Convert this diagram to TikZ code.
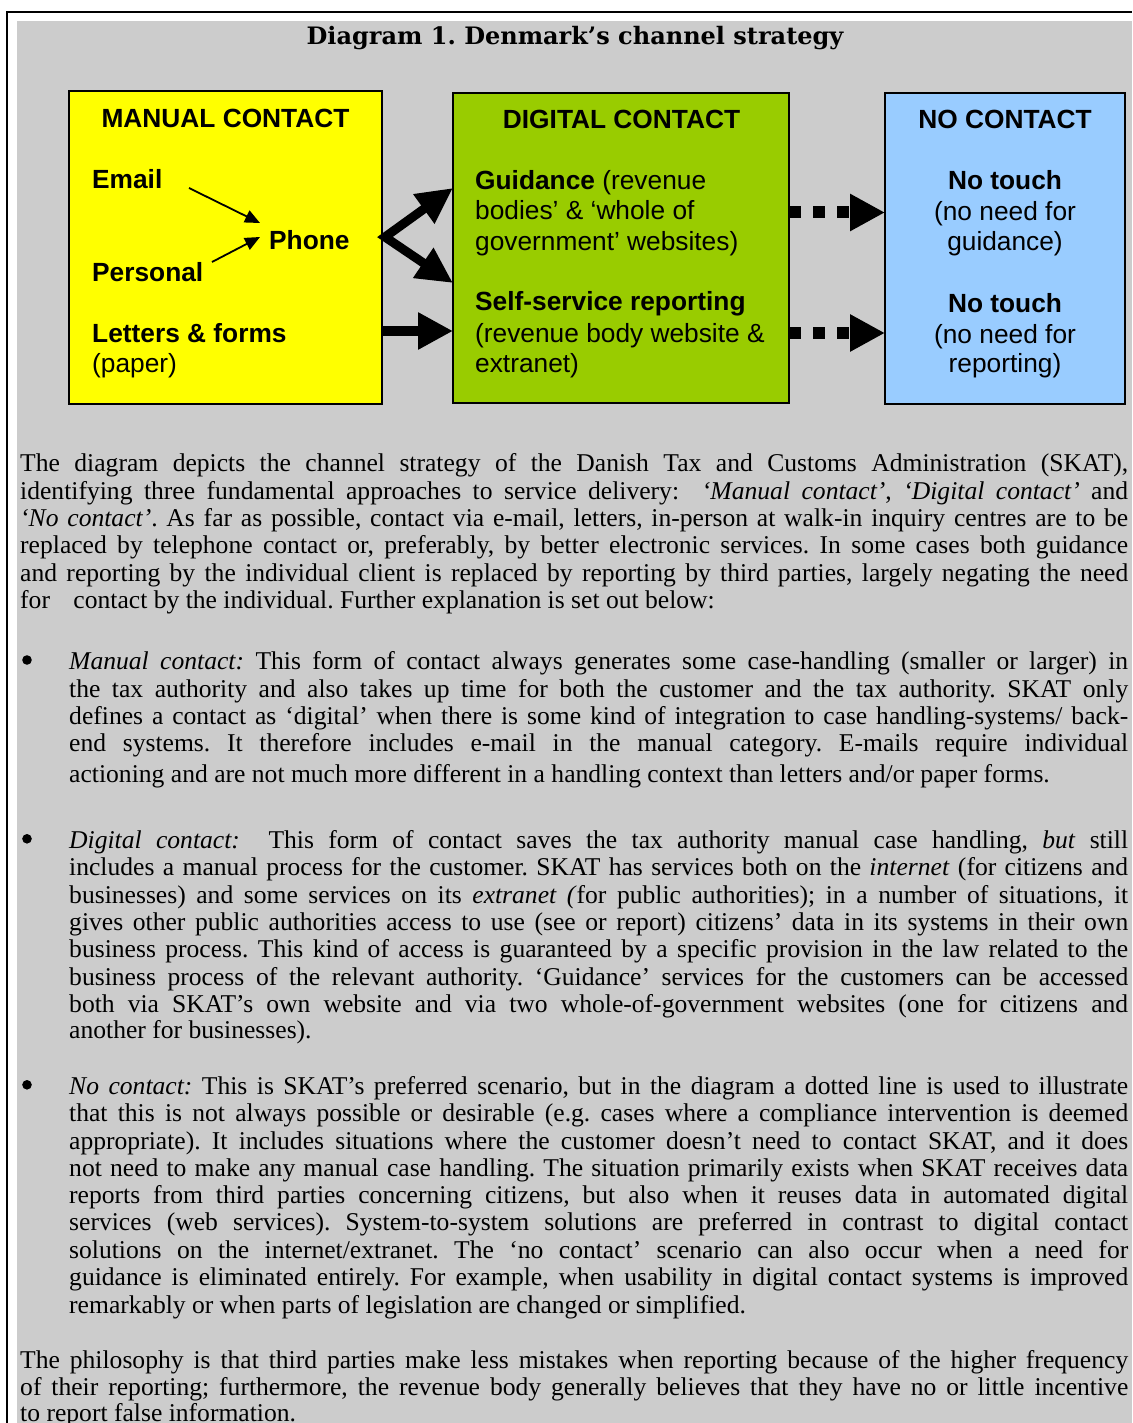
\documentclass[tikz,border=0pt]{standalone}
\usepackage{fontspec}
\setmainfont{Liberation Serif}
\newfontfamily\arialf{Liberation Sans}
\newfontfamily\titlef{DejaVu Serif}
\usetikzlibrary{arrows.meta}
\definecolor{bggray}{RGB}{204,204,204}
\definecolor{myyellow}{RGB}{255,255,0}
\definecolor{mygreen}{RGB}{153,204,0}
\definecolor{myblue}{RGB}{153,204,255}
\frenchspacing
\newcommand\bodysize{\fontsize{25.6pt}{27.3pt}\selectfont}
\newcommand\boxsize{\arialf\fontsize{26.3pt}{31pt}\selectfont}
\newcommand\pline[3]{\node[jl] (#1) at (20,#2) {\makebox[1108pt][s]{#3}};}
\newcommand\plast[3]{\node[jl] (#1) at (20,#2) {#3};}
\newcommand\bline[3]{\node[jl] (#1) at (69,#2) {\makebox[1059pt][s]{#3}};}
\newcommand\blast[3]{\node[jl] (#1) at (69,#2) {#3};}
\begin{document}
\begin{tikzpicture}[x=1pt,y=-1pt,
  box/.style={draw=black, line width=2pt, inner sep=0pt},
  bt/.style={inner sep=0pt, anchor=base west, font=\boxsize},
  btb/.style={inner sep=0pt, anchor=base west, font=\boxsize\bfseries},
  bth/.style={inner sep=0pt, anchor=base, font=\boxsize\bfseries},
  btc/.style={inner sep=0pt, anchor=base, font=\boxsize},
  jl/.style={inner sep=0pt, anchor=base west, font=\bodysize},
  bul/.style={circle, fill=black, inner sep=0pt, minimum size=9.6pt},
  smallarrow/.style={line width=1.8pt, -{Triangle[length=15pt,width=13pt]}},
  bigtip/.style={line width=10pt, -{Triangle[length=35pt,width=35pt]}},
  dotarrow/.style={line width=12pt, dash pattern=on 12pt off 12pt, -{Triangle[length=35pt,width=35pt]}}
]
\useasboundingbox (0,0) rectangle (1132,1423);
\fill[white] (0,0) rectangle (1132,1423);
\fill[bggray] (17,21) rectangle (1132,1423);
\draw[line width=2.5pt] (7,1423) -- (7,12) -- (1132,12);

\node[inner sep=0pt, anchor=base, font=\titlef\bfseries\fontsize{24pt}{28pt}\selectfont] (title) at (575,45) {Diagram 1. Denmark’s channel strategy};

% boxes
\node[box, fill=myyellow, minimum width=313pt, minimum height=313pt] (manual) at (225.5,247.5) {};
\node[box, fill=mygreen, minimum width=336pt, minimum height=310pt] (digital) at (621,248) {};
\node[box, fill=myblue, minimum width=240pt, minimum height=311pt] (nocontact) at (1005,248.5) {};

% manual contents
\node[bth] (mh) at (225.5,127.3) {MANUAL CONTACT};
\node[btb] (email) at (92,189) {Email};
\node[btb] (phone) at (269,250) {Phone};
\node[btb] (personal) at (92,281) {Personal};
\node[btb] (letters) at (92,342) {Letters \& forms};
\node[bt] (paper) at (92,372.5) {(paper)};

% digital contents
\node[bth] (dh) at (621.5,128.3) {DIGITAL CONTACT};
\node[bt] (g1) at (475,189.3) {\textbf{Guidance} (revenue};
\node[bt] (g2) at (475,220) {bodies’ \& ‘whole of};
\node[bt] (g3) at (475,250.7) {government’ websites)};
\node[bt] (s1) at (475,310.7) {\textbf{Self-service reporting}};
\node[bt] (s2) at (475,342) {(revenue body website \&};
\node[bt] (s3) at (475,372.7) {extranet)};

% no contact contents
\node[bth] (nh) at (1005,128.3) {NO CONTACT};
\node[bth] (nt1) at (1005,190) {No touch};
\node[btc] (nn1) at (1005,220.7) {(no need for};
\node[btc] (ng) at (1005,250.7) {guidance)};
\node[bth] (nt2) at (1005,312.3) {No touch};
\node[btc] (nn2) at (1005,343.3) {(no need for};
\node[btc] (nr) at (1005,372.7) {reporting)};

% arrows
\coordinate (eA) at (189,188);
\coordinate (eB) at (260,223);
\coordinate (pA) at (212,262);
\coordinate (pB) at (260,237);
\draw[smallarrow] (eA) -- (eB);
\draw[smallarrow] (pA) -- (pB);

\coordinate (J) at (385,237);
\coordinate (U) at (453,188);
\coordinate (D) at (453,283);
\draw[line width=9pt, line join=miter, {Triangle[length=36pt,width=34pt]}-{Triangle[length=36pt,width=34pt]}] (U) -- (J) -- (D);

\coordinate (L1) at (382,331);
\coordinate (L2) at (453,331);
\draw[bigtip] (L1) -- (L2);

\coordinate (d1a) at (789,212.5);
\coordinate (d1b) at (885,212.5);
\coordinate (d2a) at (789,333);
\coordinate (d2b) at (885,333);
\draw[dotarrow] (d1a) -- (d1b);
\draw[dotarrow] (d2a) -- (d2b);

% body paragraph 1
\pline{pa1}{471.5}{The diagram depicts the channel strategy of the Danish Tax and Customs Administration (SKAT),}
\pline{pa2}{499}{identifying three fundamental approaches to service delivery:\ \ \textit{‘Manual contact’}, \textit{‘Digital contact’} and}
\pline{pa3}{526.5}{\textit{‘No contact’}. As far as possible, contact via e-mail, letters, in-person at walk-in inquiry centres are to be}
\pline{pa4}{553.5}{replaced by telephone contact or, preferably, by better electronic services. In some cases both guidance}
\pline{pa5}{581}{and reporting by the individual client is replaced by reporting by third parties, largely negating the need}
\plast{pa6}{608}{for\hspace*{17pt} contact by the individual. Further explanation is set out below:}

% bullet 1
\node[bul] (bu1) at (27,660) {};
\bline{ba1}{669.5}{\textit{Manual contact:} This form of contact always generates some case-handling (smaller or larger) in}
\bline{ba2}{697}{the tax authority and also takes up time for both the customer and the tax authority. SKAT only}
\bline{ba3}{724}{defines a contact as ‘digital’ when there is some kind of integration to case handling-systems/ back-}
\bline{ba4}{751}{end systems. It therefore includes e-mail in the manual category. E-mails require individual}
\blast{ba5}{782}{actioning and are not much more different in a handling context than letters and/or paper forms.}

% bullet 2
\node[bul] (bu2) at (27,838.8) {};
\bline{bb1}{848.3}{\textit{Digital contact:}\ \ This form of contact saves the tax authority manual case handling, \textit{but} still}
\bline{bb2}{875.6}{includes a manual process for the customer. SKAT has services both on the \textit{internet} (for citizens and}
\bline{bb3}{903}{businesses) and some services on its \textit{extranet (}for public authorities); in a number of situations, it}
\bline{bb4}{930.3}{gives other public authorities access to use (see or report) citizens’ data in its systems in their own}
\bline{bb5}{957.6}{business process. This kind of access is guaranteed by a specific provision in the law related to the}
\bline{bb6}{985}{business process of the relevant authority. ‘Guidance’ services for the customers can be accessed}
\bline{bb7}{1012.2}{both via SKAT’s own website and via two whole-of-government websites (one for citizens and}
\blast{bb8}{1038}{another for businesses).}

% bullet 3
\node[bul] (bu3) at (27,1084.8) {};
\bline{bc1}{1094.3}{\textit{No contact:} This is SKAT’s preferred scenario, but in the diagram a dotted line is used to illustrate}
\bline{bc2}{1121.6}{that this is not always possible or desirable (e.g. cases where a compliance intervention is deemed}
\bline{bc3}{1149}{appropriate). It includes situations where the customer doesn’t need to contact SKAT, and it does}
\bline{bc4}{1176.2}{not need to make any manual case handling. The situation primarily exists when SKAT receives data}
\bline{bc5}{1203.5}{reports from third parties concerning citizens, but also when it reuses data in automated digital}
\bline{bc6}{1230.8}{services (web services). System-to-system solutions are preferred in contrast to digital contact}
\bline{bc7}{1258}{solutions on the internet/extranet. The ‘no contact’ scenario can also occur when a need for}
\bline{bc8}{1285.4}{guidance is eliminated entirely. For example, when usability in digital contact systems is improved}
\blast{bc9}{1313.5}{remarkably or when parts of legislation are changed or simplified.}

% final paragraph
\pline{pb1}{1368.3}{The philosophy is that third parties make less mistakes when reporting because of the higher frequency}
\pline{pb2}{1395.6}{of their reporting; furthermore, the revenue body generally believes that they have no or little incentive}
\plast{pb3}{1421}{to report false information.}
\end{tikzpicture}
\end{document}
